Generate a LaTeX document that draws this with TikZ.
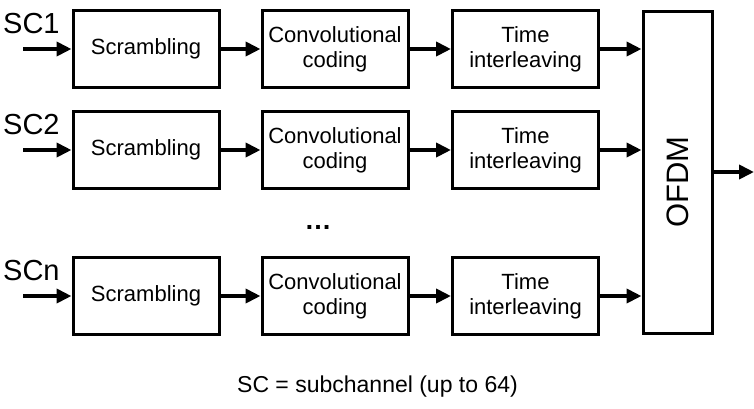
\documentclass[tikz,border=0pt]{standalone}
\usepackage{fontspec}
\setmainfont{Liberation Sans}
\usetikzlibrary{arrows.meta}

\begin{document}
\begin{tikzpicture}[x=1pt,y=1pt,
  blockbox/.style={draw,line width=3pt,minimum width=146pt,minimum height=77pt,
    inner sep=0pt,align=center,font=\fontsize{22}{25}\selectfont},
  flow/.style={line width=4pt,-{Triangle[length=15pt,width=14pt]}},
  sclabel/.style={anchor=base west,inner sep=0pt,font=\fontsize{29}{32}\selectfont}]
\useasboundingbox (0,0) rectangle (754,-408);
% subchannel 1
\node[blockbox] (scr1) at (146,-49) {Scrambling};
\node[blockbox] (conv1) at (335,-49) {Convolutional\\coding};
\node[blockbox] (time1) at (525.5,-49) {Time\\interleaving};
\node[sclabel] (sc1) at (3,-33) {SC1};
\coordinate (in1) at (23,-49);
% subchannel 2
\node[blockbox] (scr2) at (146,-150) {Scrambling};
\node[blockbox] (conv2) at (335,-150) {Convolutional\\coding};
\node[blockbox] (time2) at (525.5,-150) {Time\\interleaving};
\node[sclabel] (sc2) at (3,-134) {SC2};
\coordinate (in2) at (23,-150);
% subchannel n
\node[blockbox] (scr3) at (146,-296) {Scrambling};
\node[blockbox] (conv3) at (335,-296) {Convolutional\\coding};
\node[blockbox] (time3) at (525.5,-296) {Time\\interleaving};
\node[sclabel] (sc3) at (3,-280) {SCn};
\coordinate (in3) at (23,-296);
% OFDM block
\node[draw,line width=3pt,minimum width=69pt,minimum height=322pt,inner sep=0pt] (ofdm) at (677.5,-172.5) {};
\node[rotate=90,inner sep=0pt,font=\fontsize{31}{34}\selectfont] (ofdmtxt) at (677.5,-182) {OFDM};
\coordinate (out) at (754,-172);
% dots and caption
\node[anchor=base,inner sep=0pt,font=\bfseries\fontsize{27}{30}\selectfont] (dots) at (318,-229) {…};
\node[anchor=base,inner sep=0pt,font=\fontsize{23}{26}\selectfont] (note) at (377.5,-392) {SC = subchannel (up to 64)};
% connectors
\draw[flow] (in1) -- (scr1);
\draw[flow] (scr1) -- (conv1);
\draw[flow] (conv1) -- (time1);
\draw[flow] (time1.east) -- (ofdm.west |- time1.east);
\draw[flow] (in2) -- (scr2);
\draw[flow] (scr2) -- (conv2);
\draw[flow] (conv2) -- (time2);
\draw[flow] (time2.east) -- (ofdm.west |- time2.east);
\draw[flow] (in3) -- (scr3);
\draw[flow] (scr3) -- (conv3);
\draw[flow] (conv3) -- (time3);
\draw[flow] (time3.east) -- (ofdm.west |- time3.east);
\draw[flow] (ofdm.east |- out) -- (out);
\end{tikzpicture}
\end{document}
